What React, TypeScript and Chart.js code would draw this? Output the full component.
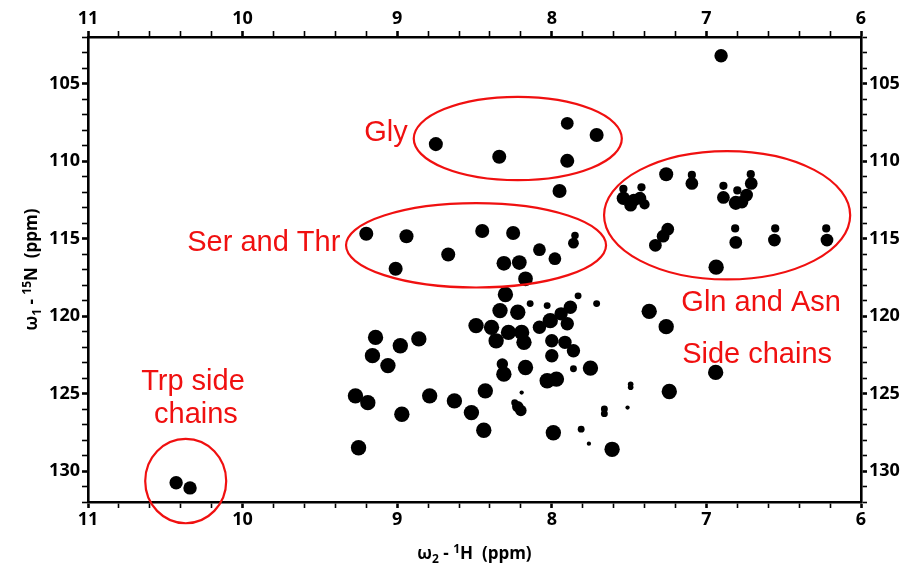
import { useEffect, useRef } from "react";
import { Chart, registerables } from "chart.js";

Chart.register(...registerables);

// Spectral window (ppm)
const H_MIN = 6;
const H_MAX = 11;
const N_MIN = 102;
const N_MAX = 132;
const hMajorTicks = [11, 10, 9, 8, 7, 6];
const nMajorTicks = [105, 110, 115, 120, 125, 130];

// Backbone amide cross-peaks: 1H shift, 15N shift, relative footprint (0..1)
const backboneH = [7.95, 8.3, 8.14, 8.335, 8.22, 8.03, 7.83, 7.71, 7.88, 7.94, 8.01, 8.49, 8.39, 8.28, 8.195, 8.08, 8.36, 8.18, 7.9, 8.0, 7.915, 7.86, 8.0, 8.32, 8.17, 8.31, 8.03, 7.97, 7.75, 7.86, 8.43, 9.27, 9.19, 8.97, 8.79, 8.63, 8.52, 8.44, 8.22, 8.2, 8.24, 8.195, 9.25, 7.99, 7.81, 7.76, 7.61, 7.66, 7.66, 7.51, 7.49, 7.49, 7.37, 7.26, 6.94, 7.24, 9.14, 8.98, 8.86, 9.16, 9.06];
const backboneN = [111.93, 118.61, 119.2, 119.65, 119.76, 119.33, 118.7, 119.2, 119.44, 119.86, 120.3, 120.62, 120.73, 121.06, 121.06, 120.73, 121.6, 121.7, 120.5, 121.6, 121.7, 122.24, 122.56, 123.1, 123.32, 123.75, 124.18, 124.07, 123.36, 123.4, 124.83, 125.15, 125.59, 126.34, 125.15, 125.48, 126.23, 127.37, 125.85, 126.1, 125.6, 124.94, 128.5, 127.53, 127.3, 128.24, 128.6, 126.0, 126.3, 125.91, 124.4, 124.6, 119.7, 120.69, 123.64, 124.87, 121.38, 121.92, 121.48, 122.56, 123.2];
const backboneSize = [0.85, 0.95, 0.3, 0.95, 0.95, 0.3, 0.3, 0.3, 0.8, 0.8, 0.95, 0.95, 0.95, 0.95, 0.95, 0.8, 0.95, 0.95, 0.8, 0.8, 0.8, 0.8, 0.8, 0.65, 0.95, 0.95, 0.95, 0.95, 0.95, 0.3, 0.95, 0.95, 0.95, 0.95, 0.95, 0.95, 0.95, 0.95, 0.65, 0.65, 0.3, 0.1, 0.95, 0.95, 0.3, 0.1, 0.95, 0.3, 0.3, 0.1, 0.2, 0.2, 0.95, 0.95, 0.95, 0.95, 0.95, 0.95, 0.95, 0.95, 0.95];

// Glycine amides
const glyH = [8.75, 8.34, 7.9, 7.71, 7.9];
const glyN = [108.91, 109.73, 107.57, 108.32, 109.99];
const glySize = [0.85, 0.85, 0.75, 0.85, 0.85];

// Serine / threonine amides
const serThrH = [9.2, 8.94, 9.01, 8.67, 8.45, 8.25, 8.08, 7.98, 7.85, 7.86, 8.31, 8.21, 8.17];
const serThrN = [114.69, 114.86, 116.95, 116.03, 114.52, 114.65, 115.72, 116.3, 114.8, 115.3, 116.6, 116.55, 117.6];
const serThrSize = [0.85, 0.85, 0.85, 0.85, 0.85, 0.85, 0.75, 0.75, 0.35, 0.6, 0.9, 0.9, 0.9];

// Gln / Asn side-chain NH2 pairs
const sideChainH = [6.905, 7.26, 7.094, 7.094, 7.537, 7.537, 7.47, 7.42, 7.43, 7.49, 7.4, 6.89, 6.89, 6.8, 6.81, 6.713, 6.71, 6.74, 6.77, 7.25, 7.28, 7.33, 6.814, 6.81, 6.555, 6.56, 6.225, 6.22, 6.937];
const sideChainN = [103.21, 110.85, 110.9, 111.45, 111.8, 112.4, 112.53, 111.7, 112.4, 112.85, 112.8, 111.6, 112.35, 111.9, 112.7, 110.85, 111.45, 112.2, 112.65, 114.4, 114.85, 115.44, 114.35, 115.25, 114.35, 115.1, 114.35, 115.1, 116.85];
const sideChainSize = [0.8, 0.85, 0.4, 0.75, 0.4, 0.8, 0.75, 0.4, 0.75, 0.75, 0.55, 0.4, 0.75, 0.4, 0.85, 0.4, 0.75, 0.75, 0.75, 0.75, 0.75, 0.75, 0.4, 0.75, 0.4, 0.75, 0.4, 0.75, 0.95];

// Trp indole NH
const trpH = [10.43, 10.34];
const trpN = [130.76, 131.09];
const trpSize = [0.8, 0.8];

// Highlighted regions: centre and half-widths (ppm)
const regionCenterH = [8.22, 8.49, 6.866, 10.368];
const regionCenterN = [108.55, 115.44, 113.5, 130.65];
const regionHalfH = [0.673, 0.841, 0.796, 0.262];
const regionHalfN = [2.69, 2.72, 4.14, 2.72];

// Region captions and anchor shifts (ppm)
const captionText = ["Gly", "Ser and Thr", "Gln and Asn", "Side chains", "Trp side", "chains"];
const captionH = [9.073, 9.863, 6.646, 6.672, 10.321, 10.302];
const captionN = [108.19, 115.31, 119.13, 122.49, 124.24, 126.38];

const RED = "#f01010";
const TICK_FONT = { family: "'Open Sans', 'DejaVu Sans', sans-serif", size: 18, weight: "bold" as const };

const toPoints = (h: number[], n: number[]) => h.map((v, i) => ({ x: v, y: n[i] }));
const toRadius = (s: number[]) => s.map((v) => 1.5 + 6.5 * v);

const hTickValues: number[] = [];
for (let i = H_MIN * 5; i <= H_MAX * 5; i++) hTickValues.push(i / 5);
const nTickValues: number[] = [];
for (let v = N_MIN; v <= N_MAX; v++) nTickValues.push(v);

const isMajorH = (v: number) => hMajorTicks.some((m) => Math.abs(m - v) < 1e-6);
const isMajorN = (v: number) => nMajorTicks.some((m) => Math.abs(m - v) < 1e-6);

const regionsPlugin = {
  id: "regions",
  afterDraw(chart: any) {
    const { ctx } = chart;
    const x = chart.scales.x;
    const y = chart.scales.y;
    ctx.save();
    ctx.strokeStyle = RED;
    ctx.lineWidth = 2.2;
    regionCenterH.forEach((h, i) => {
      const cx = x.getPixelForValue(h);
      const cy = y.getPixelForValue(regionCenterN[i]);
      const rx = Math.abs(x.getPixelForValue(h + regionHalfH[i]) - cx);
      const ry = Math.abs(y.getPixelForValue(regionCenterN[i] + regionHalfN[i]) - cy);
      ctx.beginPath();
      ctx.ellipse(cx, cy, rx, ry, 0, 0, Math.PI * 2);
      ctx.stroke();
    });
    ctx.fillStyle = RED;
    ctx.font = "29px 'Liberation Sans', Arial, sans-serif";
    ctx.textAlign = "center";
    ctx.textBaseline = "middle";
    captionText.forEach((t, i) => {
      ctx.fillText(t, x.getPixelForValue(captionH[i]), y.getPixelForValue(captionN[i]));
    });
    ctx.restore();
  },
};

// Axis titles with sub/superscripts
type Run = { t: string; shift: number; small: boolean };
const hTitle: Run[] = [
  { t: "ω", shift: 0, small: false },
  { t: "2", shift: 4, small: true },
  { t: " - ", shift: 0, small: false },
  { t: "1", shift: -6, small: true },
  { t: "H  (ppm)", shift: 0, small: false },
];
const nTitle: Run[] = [
  { t: "ω", shift: 0, small: false },
  { t: "1", shift: 4, small: true },
  { t: " - ", shift: 0, small: false },
  { t: "15", shift: -6, small: true },
  { t: "N  (ppm)", shift: 0, small: false },
];

function drawRuns(ctx: CanvasRenderingContext2D, runs: Run[], cx: number, baseline: number) {
  const big = "bold 17px 'Open Sans', 'DejaVu Sans', sans-serif";
  const small = "bold 12px 'Open Sans', 'DejaVu Sans', sans-serif";
  let total = 0;
  runs.forEach((r) => {
    ctx.font = r.small ? small : big;
    total += ctx.measureText(r.t).width;
  });
  let px = cx - total / 2;
  ctx.textAlign = "left";
  ctx.textBaseline = "alphabetic";
  runs.forEach((r) => {
    ctx.font = r.small ? small : big;
    ctx.fillText(r.t, px, baseline + r.shift);
    px += ctx.measureText(r.t).width;
  });
}

const titlesPlugin = {
  id: "axisTitles",
  afterDraw(chart: any) {
    const { ctx, chartArea } = chart;
    ctx.save();
    ctx.fillStyle = "#000";
    drawRuns(ctx, hTitle, (chartArea.left + chartArea.right) / 2, 559);
    ctx.translate(37, (chartArea.top + chartArea.bottom) / 2);
    ctx.rotate(-Math.PI / 2);
    drawRuns(ctx, nTitle, 0, 0);
    ctx.restore();
  },
};

const gridFor = (major: (v: number) => boolean) => ({
  display: true,
  drawOnChartArea: false,
  drawTicks: true,
  tickLength: 6,
  tickColor: "#000",
  color: "#000",
  tickWidth: (c: any) => (c.tick && major(c.tick.value) ? 2.6 : 1.6),
});

function hScale(position: "top" | "bottom", size: number) {
  return {
    type: "linear" as const,
    position,
    min: H_MIN,
    max: H_MAX,
    reverse: true,
    border: { display: true, color: "#000", width: 2.6 },
    grid: gridFor(isMajorH),
    afterBuildTicks: (s: any) => {
      s.ticks = hTickValues.map((v) => ({ value: v }));
    },
    afterFit: (s: any) => {
      s.height = size;
    },
    ticks: {
      autoSkip: false,
      maxRotation: 0,
      minRotation: 0,
      padding: 1,
      color: "#000",
      font: TICK_FONT,
      callback: (v: any) => (isMajorH(Number(v)) ? String(Math.round(Number(v))) : ""),
    },
  };
}

function nScale(position: "left" | "right", size: number) {
  return {
    type: "linear" as const,
    position,
    min: N_MIN,
    max: N_MAX,
    reverse: true,
    border: { display: true, color: "#000", width: 2.6 },
    grid: gridFor(isMajorN),
    afterBuildTicks: (s: any) => {
      s.ticks = nTickValues.map((v) => ({ value: v }));
    },
    afterFit: (s: any) => {
      s.width = size;
    },
    ticks: {
      autoSkip: false,
      padding: 2,
      color: "#000",
      font: TICK_FONT,
      callback: (v: any) => (isMajorN(Number(v)) ? String(v) : ""),
    },
  };
}

export default function App() {
  const canvasRef = useRef<HTMLCanvasElement | null>(null);

  useEffect(() => {
    if (!canvasRef.current) return;
    const peakSet = (label: string, h: number[], n: number[], s: number[]) => ({
      label,
      data: toPoints(h, n),
      pointRadius: toRadius(s),
      pointBackgroundColor: "#000",
      pointBorderWidth: 0,
      showLine: false,
      xAxisID: "x",
      yAxisID: "y",
    });
    const chart = new Chart(canvasRef.current, {
      type: "scatter",
      data: {
        datasets: [
          peakSet("Backbone", backboneH, backboneN, backboneSize),
          peakSet("Gly", glyH, glyN, glySize),
          peakSet("Ser/Thr", serThrH, serThrN, serThrSize),
          peakSet("Gln/Asn side chains", sideChainH, sideChainN, sideChainSize),
          peakSet("Trp side chains", trpH, trpN, trpSize),
        ],
      },
      options: {
        responsive: false,
        animation: false,
        devicePixelRatio: 1,
        layout: { padding: 0 },
        plugins: { legend: { display: false }, tooltip: { enabled: false }, title: { display: false } },
        scales: {
          x: hScale("bottom", 63),
          x2: hScale("top", 37),
          y: nScale("left", 88),
          y2: nScale("right", 43),
        } as any,
      },
      plugins: [regionsPlugin, titlesPlugin],
    });
    return () => chart.destroy();
  }, []);

  return (
    <div style={{ position: "fixed", left: 0, top: 0, width: 904, height: 565, background: "#fff" }}>
      <canvas ref={canvasRef} width={904} height={565} style={{ display: "block" }} />
    </div>
  );
}
